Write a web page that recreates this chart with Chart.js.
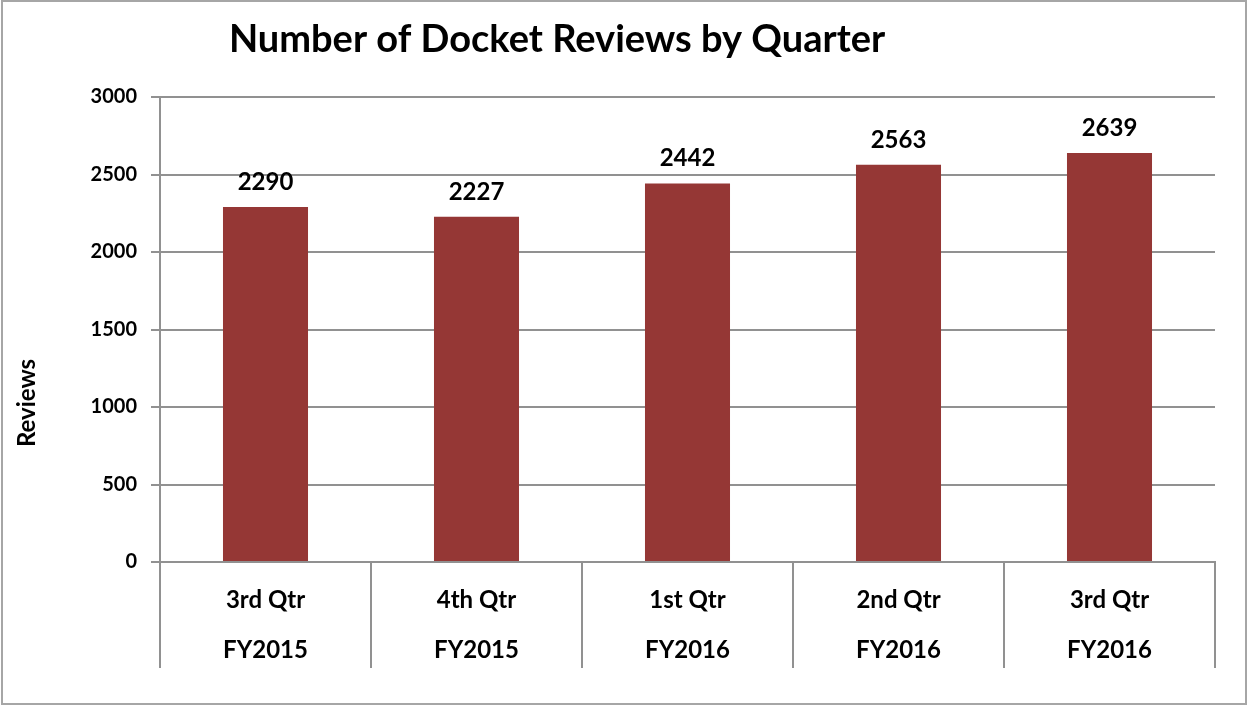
<!DOCTYPE html>
<html>
<head>
<meta charset="utf-8">
<script src="https://cdn.jsdelivr.net/npm/chart.js@4"></script>
<style>
    html, body { margin: 0; padding: 0; background: #fff; }
    #wrap { position: relative; width: 1247px; height: 706px; }
    #frame { position: absolute; left: 1px; top: 0; width: 1242px; height: 701px; border: 2px solid #a6a6a6; pointer-events: none; }
</style>
</head>
<body>
<div id="wrap">
    <canvas id="chart" width="1247" height="706"></canvas>
    <div id="frame"></div>
</div>
<script>
// data
const quarters = ['3rd Qtr', '4th Qtr', '1st Qtr', '2nd Qtr', '3rd Qtr'];
const fiscalYears = ['FY2015', 'FY2015', 'FY2016', 'FY2016', 'FY2016'];
const reviews = [2290, 2227, 2442, 2563, 2639];
const yMin = 0, yMax = 3000, yStep = 500;

const titleText = 'Number of Docket Reviews by Quarter';
const yTitleText = 'Reviews';

const FONT = 'Lato, "Open Sans", sans-serif';
const GRID = '#919191';
const BAR = '#953735';

// value labels above the bars
const valueLabels = {
    id: 'valueLabels',
    afterDatasetsDraw(chart) {
        const ctx = chart.ctx;
        const meta = chart.getDatasetMeta(0);
        ctx.save();
        ctx.font = 'bold 24px ' + FONT;
        ctx.fillStyle = '#000';
        ctx.textAlign = 'center';
        ctx.textBaseline = 'alphabetic';
        meta.data.forEach((bar, i) => {
            ctx.fillText(String(reviews[i]), bar.x, bar.y - 17);
        });
        ctx.restore();
    }
};

// chart title + rotated axis title
const titles = {
    id: 'titles',
    afterDraw(chart) {
        const ctx = chart.ctx;
        ctx.save();
        ctx.fillStyle = '#000';
        ctx.textAlign = 'center';
        ctx.textBaseline = 'alphabetic';
        ctx.font = 'bold 38px ' + FONT;
        ctx.fillText(titleText, 557, 52);

        ctx.translate(35, 403);
        ctx.rotate(-Math.PI / 2);
        ctx.font = 'bold 24px ' + FONT;
        ctx.fillText(yTitleText, 0, 0);
        ctx.restore();
    }
};

new Chart(document.getElementById('chart'), {
    type: 'bar',
    data: {
        labels: quarters.map((q, i) => [q, fiscalYears[i]]),
        datasets: [{
            data: reviews,
            backgroundColor: BAR,
            borderWidth: 0,
            barPercentage: 0.403,
            categoryPercentage: 1
        }]
    },
    options: {
        responsive: false,
        animation: false,
        layout: { padding: { top: 97, right: 32, left: 0, bottom: 0 } },
        plugins: {
            legend: { display: false },
            tooltip: { enabled: false },
            title: { display: false }
        },
        scales: {
            x: {
                offset: true,
                grid: {
                    offset: true,
                    drawOnChartArea: false,
                    color: GRID,
                    lineWidth: 2,
                    tickLength: 106
                },
                border: { color: GRID, width: 2 },
                ticks: {
                    color: '#000',
                    padding: -93,
                    maxRotation: 0,
                    font: { family: FONT, size: 24, weight: 'bold', lineHeight: '50px' }
                },
                afterFit(scale) { scale.height = 144; }
            },
            y: {
                min: yMin,
                max: yMax,
                grid: { color: GRID, lineWidth: 2, tickLength: 9 },
                border: { color: GRID, width: 2 },
                ticks: {
                    stepSize: yStep,
                    color: '#000',
                    padding: 14,
                    callback: (v) => String(v),
                    font: { family: FONT, size: 20, weight: 'bold' }
                },
                afterFit(scale) { scale.width = 160; }
            }
        }
    },
    plugins: [valueLabels, titles]
});
</script>
</body>
</html>
